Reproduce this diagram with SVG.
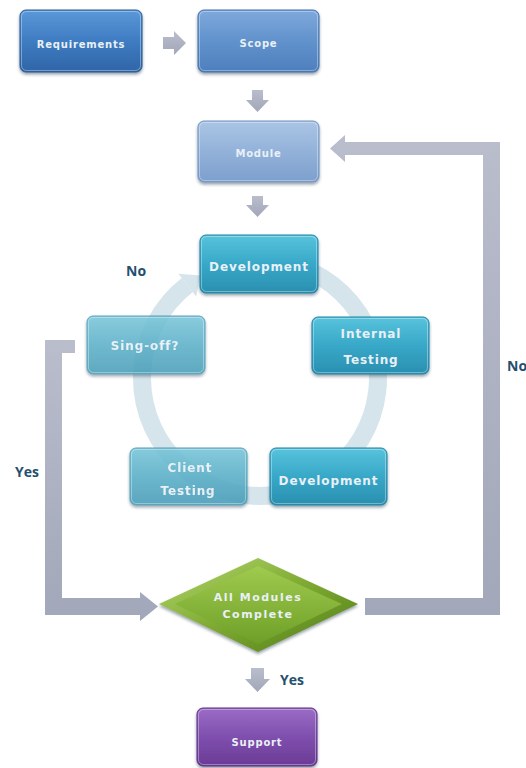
<svg xmlns="http://www.w3.org/2000/svg" width="526" height="768" viewBox="0 0 526 768">
  <defs>
    <linearGradient id="gReq" x1="0" y1="0" x2="0" y2="1">
      <stop offset="0" stop-color="#5b98d8"/>
      <stop offset="0.5" stop-color="#3f7cc2"/>
      <stop offset="1" stop-color="#2f65a6"/>
    </linearGradient>
    <linearGradient id="gScope" x1="0" y1="0" x2="0" y2="1">
      <stop offset="0" stop-color="#7fa9dc"/>
      <stop offset="0.5" stop-color="#6192cc"/>
      <stop offset="1" stop-color="#4e7fbd"/>
    </linearGradient>
    <linearGradient id="gModule" x1="0" y1="0" x2="0" y2="1">
      <stop offset="0" stop-color="#aac4e4"/>
      <stop offset="0.5" stop-color="#93b2da"/>
      <stop offset="1" stop-color="#7d9fcc"/>
    </linearGradient>
    <linearGradient id="gTeal" x1="0" y1="0" x2="0" y2="1">
      <stop offset="0" stop-color="#58c3dc"/>
      <stop offset="0.5" stop-color="#38a8c8"/>
      <stop offset="1" stop-color="#2a8fb0"/>
    </linearGradient>
    <linearGradient id="gTealLight" x1="0" y1="0" x2="0" y2="1">
      <stop offset="0" stop-color="#79c5d9"/>
      <stop offset="0.5" stop-color="#5cb0c8"/>
      <stop offset="1" stop-color="#4a9db8"/>
    </linearGradient>
    <linearGradient id="gSupport" x1="0" y1="0" x2="0" y2="1">
      <stop offset="0" stop-color="#9b6cc6"/>
      <stop offset="0.5" stop-color="#7f4fae"/>
      <stop offset="1" stop-color="#6a3b95"/>
    </linearGradient>
    <linearGradient id="gDiamond" x1="0" y1="0" x2="0" y2="1">
      <stop offset="0" stop-color="#9fcb4e"/>
      <stop offset="1" stop-color="#6f9f28"/>
    </linearGradient>
    <linearGradient id="gBevel" x1="0" y1="0" x2="1" y2="1">
      <stop offset="0" stop-color="#b6d970"/>
      <stop offset="0.5" stop-color="#7eaa32"/>
      <stop offset="1" stop-color="#4f7a16"/>
    </linearGradient>
    <linearGradient id="gGray" x1="0" y1="0" x2="0" y2="1">
      <stop offset="0" stop-color="#b9bdcc"/>
      <stop offset="1" stop-color="#a2a7b9"/>
    </linearGradient>
    <filter id="shadow" x="-10%" y="-10%" width="120%" height="130%">
      <feDropShadow dx="0" dy="2" stdDeviation="1.6" flood-color="#1c2c40" flood-opacity="0.45"/>
    </filter>
  </defs>
  <style>
    .box { stroke-width: 1; filter: url(#shadow); }
    .gloss { fill: none; stroke: #ffffff; stroke-opacity: 0.35; stroke-width: 1; }
    .t { font-family: "DejaVu Sans", "Liberation Sans", sans-serif; font-weight: bold; fill: #e9f0f6; text-anchor: middle; }
    .t10 { font-size: 10px; letter-spacing: 0.8px; }
    .t12 { font-size: 12px; letter-spacing: 0.9px; }
    .lbl { font-family: "Open Sans", "Liberation Sans", sans-serif; font-weight: bold; font-size: 14px; fill: #24506e; }
    .arrow { fill: url(#gGray); }
  </style>

  <rect width="526" height="768" fill="#ffffff"/>

  <g id="connectors">
    <!-- cycle ring behind the iteration boxes -->
    <path d="M300.4 267.1 A118 118 0 1 1 187.3 285.0" fill="none" stroke="#cfe1e8" stroke-width="18" stroke-opacity="0.85"/>
    <polygon points="178.4,273.7 196.2,296.4 200.5,275.5" fill="#cfe1e8" fill-opacity="0.85"/>

    <!-- Requirements to Scope -->
    <polygon class="arrow" points="163,37 174,37 174,31 186,43 174,55 174,49 163,49"/>
    <!-- Scope to Module -->
    <polygon class="arrow" points="252,90 263,90 263,100 269,100 257.5,112 246,100 252,100"/>
    <!-- Module to Development -->
    <polygon class="arrow" points="252,196 263,196 263,205 269,205 257.5,217 246,205 252,205"/>
    <!-- All Modules Complete to Support -->
    <polygon class="arrow" points="251,668 264,668 264,679 270,679 257.5,692 245,679 251,679"/>

    <!-- Sing-off? (Yes) to All Modules Complete -->
    <polygon class="arrow" points="75,340 45,340 45,615 140,615 140,621 158,606.5 140,592 140,598 62,598 62,353 75,353"/>
    <!-- All Modules Complete (No) back to Module -->
    <polygon class="arrow" points="365,598 483,598 483,155 345,155 345,162 330,148.5 345,135 345,142 500,142 500,615 365,615"/>

    <text class="lbl" x="126" y="276">No</text>
    <text class="lbl" x="507" y="371">No</text>
    <text class="lbl" x="15" y="477">Yes</text>
    <text class="lbl" x="280" y="685">Yes</text>
  </g>

  <g id="node-requirements">
    <rect class="box" x="20" y="10" width="122" height="62" rx="6" fill="url(#gReq)" stroke="#2b5c98"/>
    <rect class="gloss" x="21.5" y="11.5" width="119" height="59" rx="5"/>
    <text class="t t10" x="81" y="48">Requirements</text>
  </g>

  <g id="node-scope">
    <rect class="box" x="198" y="10" width="121" height="62" rx="6" fill="url(#gScope)" stroke="#4572ad"/>
    <rect class="gloss" x="199.5" y="11.5" width="118" height="59" rx="5"/>
    <text class="t t10" x="258.5" y="47">Scope</text>
  </g>

  <g id="node-module">
    <rect class="box" x="198" y="121" width="121" height="61" rx="6" fill="url(#gModule)" stroke="#7395c2"/>
    <rect class="gloss" x="199.5" y="122.5" width="118" height="58" rx="5"/>
    <text class="t t10" x="258.5" y="157">Module</text>
  </g>

  <g id="node-development-1">
    <rect class="box" x="200" y="235" width="118" height="58" rx="6" fill="url(#gTeal)" stroke="#2585a5"/>
    <rect class="gloss" x="201.5" y="236.5" width="115" height="55" rx="5"/>
    <text class="t t12" x="259" y="271">Development</text>
  </g>

  <g id="node-internal-testing">
    <rect class="box" x="312" y="317" width="117" height="57" rx="6" fill="url(#gTeal)" stroke="#2585a5"/>
    <rect class="gloss" x="313.5" y="318.5" width="114" height="54" rx="5"/>
    <text class="t t12" x="371" y="338">Internal</text>
    <text class="t t12" x="371" y="364">Testing</text>
  </g>

  <g id="node-development-2">
    <rect class="box" x="270" y="448" width="117" height="57" rx="6" fill="url(#gTeal)" stroke="#2585a5"/>
    <rect class="gloss" x="271.5" y="449.5" width="114" height="54" rx="5"/>
    <text class="t t12" x="328.5" y="485">Development</text>
  </g>

  <g id="node-client-testing" opacity="0.9">
    <rect class="box" x="130" y="448" width="117" height="57" rx="6" fill="url(#gTealLight)" stroke="#4a9ab5"/>
    <rect class="gloss" x="131.5" y="449.5" width="114" height="54" rx="5"/>
    <text class="t t12" x="190" y="472">Client</text>
    <text class="t t12" x="188" y="495">Testing</text>
  </g>

  <g id="node-sign-off" opacity="0.88">
    <rect class="box" x="87" y="316" width="118" height="58" rx="6" fill="url(#gTealLight)" stroke="#4a9ab5"/>
    <rect class="gloss" x="88.5" y="317.5" width="115" height="55" rx="5"/>
    <text class="t t12" x="145" y="350">Sing-off?</text>
  </g>

  <g id="node-all-modules-complete">
    <polygon points="159,604 258,558 358,604 258,652" fill="url(#gBevel)" filter="url(#shadow)"/>
    <polygon points="175,604 258,566 342,604 258,644" fill="url(#gDiamond)"/>
    <text class="t" x="258" y="601" font-size="11" letter-spacing="1.5">All Modules</text>
    <text class="t" x="258" y="618" font-size="11" letter-spacing="1.5">Complete</text>
  </g>

  <g id="node-support">
    <rect class="box" x="197" y="708" width="120" height="58" rx="6" fill="url(#gSupport)" stroke="#5e3386"/>
    <rect class="gloss" x="198.5" y="709.5" width="117" height="55" rx="5"/>
    <text class="t t10" x="257" y="746">Support</text>
  </g>
</svg>
